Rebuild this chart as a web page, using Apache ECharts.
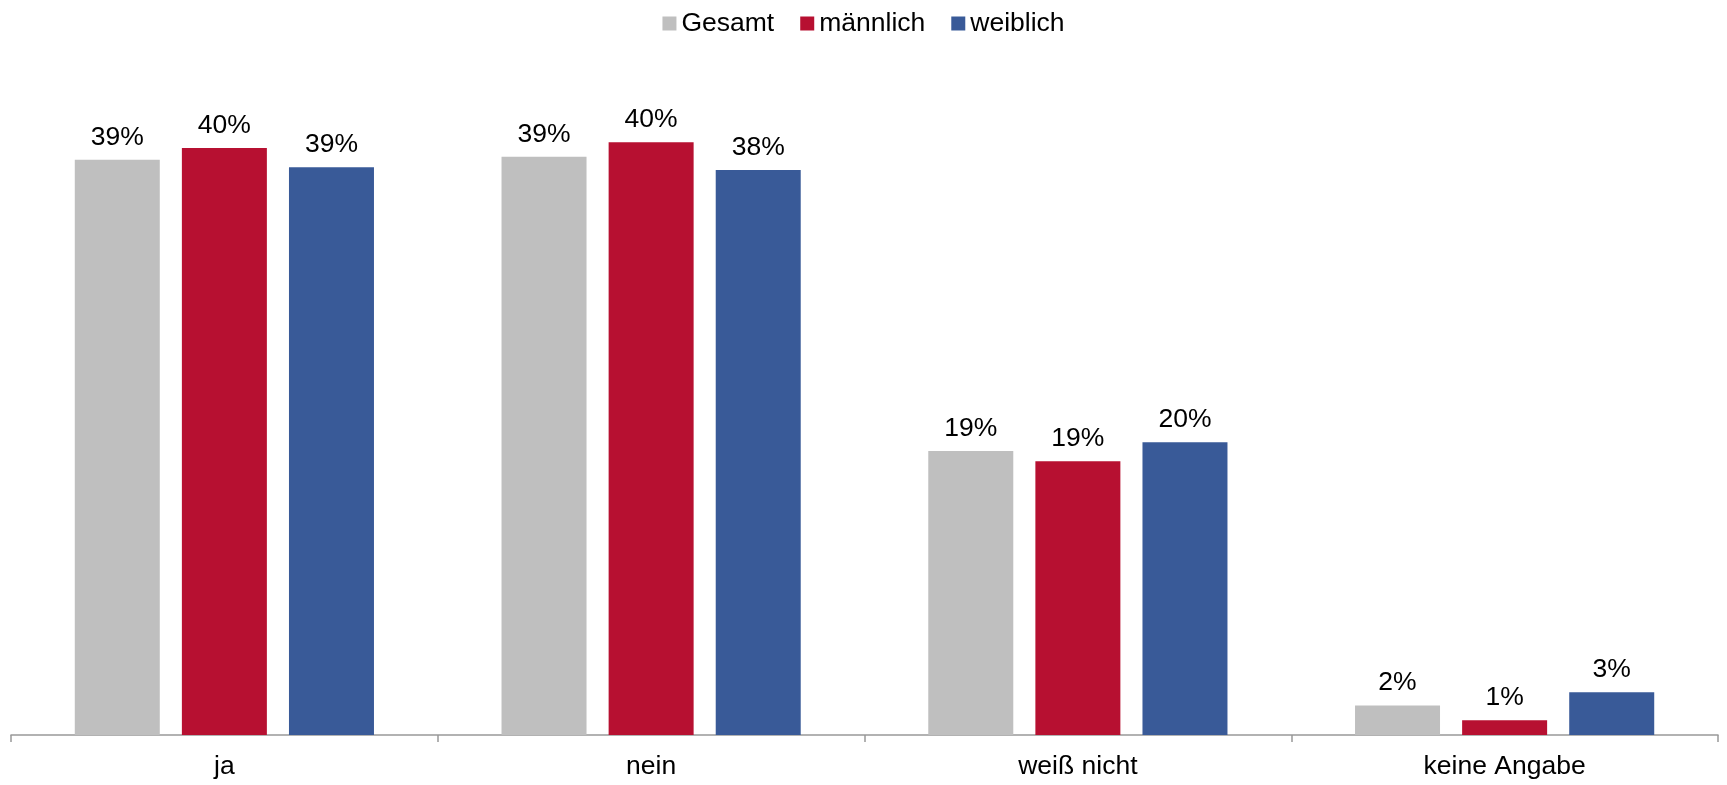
<!DOCTYPE html>
<html>
<head>
<meta charset="utf-8">
<script src="https://cdn.jsdelivr.net/npm/echarts@6/dist/echarts.min.js"></script>
<style>html,body{margin:0;padding:0;background:#fff}#c{width:1727px;height:785px}</style>
</head>
<body>
<div id="c"></div>
<script>
const categories = ['ja', 'nein', 'weiß nicht', 'keine Angabe'];
const seriesNames = ['Gesamt', 'männlich', 'weiblich'];
const gesamt = [39.1, 39.3, 19.3, 2.0];
const maennlich = [39.9, 40.3, 18.6, 1.0];
const weiblich = [38.6, 38.4, 19.9, 2.9];
const colors = ['#bfbfbf', '#b71031', '#395a98'];

const font = 'Liberation Sans, Arial, sans-serif';
const chart = echarts.init(document.getElementById('c'));
const mk = (name, data, color) => ({
  name, type: 'bar', data,
  barWidth: 85, barGap: '26%',
  itemStyle: { color },
  label: {
    show: true, position: 'top', distance: 9,
    formatter: p => Math.round(p.value) + '%',
    fontFamily: font, fontSize: 26.5, color: '#000'
  }
});
chart.setOption({
  animation: false,
  legend: {
    top: 5, left: 'center', itemWidth: 14, itemHeight: 14, itemGap: 26,
    icon: 'rect',
    textStyle: { fontFamily: font, fontSize: 26.5, color: '#000' },
    data: seriesNames
  },
  grid: { left: 11, right: 9, top: 73, bottom: 50, containLabel: false },
  xAxis: {
    type: 'category', data: categories,
    axisLine: { lineStyle: { color: '#999', width: 1.5 } },
    axisTick: { show: true, length: 7, lineStyle: { color: '#999', width: 1.5 } },
    axisLabel: { fontFamily: font, fontSize: 26.5, color: '#000', margin: 18 }
  },
  yAxis: { type: 'value', min: 0, max: 45, show: false, splitLine: { show: false } },
  series: [
    mk(seriesNames[0], gesamt, colors[0]),
    mk(seriesNames[1], maennlich, colors[1]),
    mk(seriesNames[2], weiblich, colors[2])
  ]
});
</script>
</body>
</html>
